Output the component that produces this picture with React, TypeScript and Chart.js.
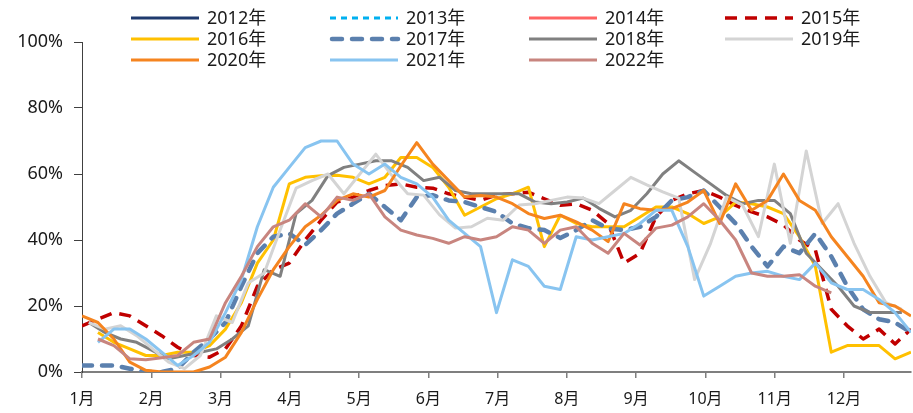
import React, { useEffect, useRef } from 'react';
import { Chart, registerables } from 'chart.js';

Chart.register(...registerables);

// ---------- data ----------
const monthLabels = ['1月', '2月', '3月', '4月', '5月', '6月', '7月', '8月', '9月', '10月', '11月', '12月'];
const yTickValues = [0, 20, 40, 60, 80, 100];
const seriesNames = ['2012年', '2013年', '2014年', '2015年', '2016年', '2017年', '2018年', '2019年', '2020年', '2021年', '2022年'];

// weekly utilisation (%) — one value per week
const s2012: (number | null)[] = [];
const s2013: (number | null)[] = [];
const s2014: (number | null)[] = [];
const s2015: (number | null)[] = [14, 16, 18, 17, 14, 11, 7.5, 5, 4.5, 7, 14, 26, 31, 33, 40, 46, 51.5, 53, 55, 56.5, 57, 56, 55.7, 54, 53, 52, 53.6, 54, 54.5, 52.5, 50.5, 51, 49, 45, 33, 36, 47, 52, 54, 55, 53, 50.5, 48.5, 47, 44.6, 40, 37, 19, 14, 10, 13, 8.5, 13];
const s2016: (number | null)[] = [null, 12, 9, 7, 5, 5, 6, 6, 8, 13, 21, 33, 40, 57, 59, 59.5, 59.6, 59, 57, 59, 65, 65, 62, 56, 47.5, 50, 52.5, 54, 56, 38, 47.5, 45, 44, 44, 44, 47, 50, 50, 48, 45, 47, 51.5, 51, 50, 48, 41, 32, 6, 8, 8, 8, 4, 6];
const s2017: (number | null)[] = [2, 2, 2, 1, 0, 0, 1, 6, 10, 15, 26, 36, 41, 42, 38.5, 43, 48, 51, 54, 50, 46, 53, 53.6, 52, 51.5, 50, 48.5, 45, 43.6, 43, 40.6, 43, 46, 43.5, 43, 44, 47, 52, 53, 55, 50, 45, 38, 32, 38, 36, 42, 35, 26, 19, 16, 15, 12];
const s2018: (number | null)[] = [15, 12, 10, 9, 6.5, 4, 5, 6, 7, 10, 14, 31, 29, 48, 52, 59.5, 62, 63, 64, 64, 62, 58, 59, 55, 54, 54, 54, 54, 51.5, 51, 51.5, 52.7, 49.6, 47, 49, 54, 60, 64, 60.5, 57, 53.5, 51, 52, 52, 48, 36, 31, 26, 20, 18, 18, 18];
const s2019: (number | null)[] = [15, 13, 14, 11, 7, 3, 1, 5, 17, 15, 27, 30, 43, 55.7, 58, 60, 54, 60, 66, 59.6, 54, 53.6, 47.6, 43.6, 44, 46.6, 46, 50.6, 51, 52, 53, 52.7, 51, 55, 59, 56.7, 54.6, 52.7, 28, 39, 53, 50.6, 41, 63, 39, 67, 45, 51, 39, 29, 21, 19];
const s2020: (number | null)[] = [17, 15, 10, 3, 0.5, 0, 0, 0, 1.5, 4.5, 12, 22, 31, 38, 44, 47.5, 52, 54, 53, 55, 62.5, 69.5, 63, 58, 53, 53.5, 53, 51, 48, 46.5, 47.5, 45.5, 43, 39.5, 51, 49.5, 49, 49.5, 51.5, 55, 45, 57, 49, 52, 60, 52, 49, 41, 35, 29, 21, 20, 17];
const s2021: (number | null)[] = [null, 9, 13, 13, 10, 6, 2, 5, 9, 18, 28, 44, 56, 62, 68, 70, 70, 63, 60, 63, 59, 57, 53, 46, 42, 38, 18, 34, 32, 26, 25, 41, 40, 41, 42, 45, 49, 49, 38, 23, 26, 29, 30, 30.5, 29, 28, 33, 27, 25, 25, 22, 18, 12];
const s2022: (number | null)[] = [null, 10, 8, 4, 3.7, 4.3, 5, 9, 10, 21, 29, 38, 44, 46, 51, 47, 53, 52, 54, 47, 43, 41.5, 40.5, 39, 41, 40, 41, 44, 43, 39, 43, 44, 39, 36, 42, 38.5, 43.6, 44.5, 47, 51, 46, 40, 30, 29, 29, 29.5, 26, 24];

// day of year of each series' first weekly observation
const startDays = [0, 0, 0, 0, 0, 0, 3, 3, 0, 0, 0];

// ---------- styles ----------
const seriesValues = [s2012, s2013, s2014, s2015, s2016, s2017, s2018, s2019, s2020, s2021, s2022];
const seriesColors = ['#1F3A6E', '#00B0F0', '#FF6464', '#C00000', '#FFC000', '#5B80AE', '#808080', '#D4D4D4', '#F5841F', '#88C4F0', '#C8857F'];
const seriesWidths = [3, 3, 3, 3.5, 3, 4.5, 3, 3, 3, 3, 3];
const seriesDashes: number[][] = [[], [6, 5], [], [12, 8], [], [10, 10], [], [], [], [], []];
const seriesCaps = ['butt', 'butt', 'butt', 'butt', 'butt', 'round', 'butt', 'butt', 'butt', 'butt', 'butt'];

const FONT_FAMILY = '"Noto Sans", "Noto Sans CJK SC", sans-serif';
const TEXT_COLOR = '#1a1a1a';
const legendCols = [131, 330, 529, 725];
const legendRows = [18, 39, 60];

const legendPlugin = {
  id: 'customLegend',
  afterDraw(chart: any) {
    const ctx = chart.ctx as CanvasRenderingContext2D;
    chart.data.datasets.forEach((ds: any, i: number) => {
      const x0 = legendCols[i % 4];
      const y = legendRows[Math.floor(i / 4)];
      ctx.save();
      ctx.strokeStyle = ds.borderColor;
      ctx.lineWidth = ds.borderWidth;
      ctx.setLineDash(ds.borderDash || []);
      ctx.lineCap = ds.borderCapStyle || 'butt';
      ctx.beginPath();
      ctx.moveTo(x0 + (ds.borderCapStyle === 'round' ? 2 : 0), y);
      ctx.lineTo(x0 + 68, y);
      ctx.stroke();
      ctx.setLineDash([]);
      ctx.fillStyle = TEXT_COLOR;
      ctx.font = `18px ${FONT_FAMILY}`;
      ctx.textBaseline = 'middle';
      ctx.textAlign = 'left';
      ctx.fillText(ds.label, x0 + 76, y + 1);
      ctx.restore();
    });
  },
};

export default function App() {
  const canvasRef = useRef<HTMLCanvasElement>(null);

  useEffect(() => {
    document.body.style.margin = '0';
    const canvas = canvasRef.current;
    if (!canvas) return;

    const datasets = seriesNames.map((name, i) => ({
      label: name,
      data: seriesValues[i].map((v, k) => ({ x: startDays[i] + 7 * k, y: v })),
      borderColor: seriesColors[i],
      backgroundColor: seriesColors[i],
      borderWidth: seriesWidths[i],
      borderDash: seriesDashes[i],
      borderCapStyle: seriesCaps[i],
      borderJoinStyle: 'round',
      pointRadius: 0,
      pointHoverRadius: 0,
      tension: 0,
      fill: false,
      spanGaps: false,
      order: seriesNames.length - i,
    }));

    const chart = new Chart(canvas, {
      type: 'line',
      data: { datasets } as any,
      plugins: [legendPlugin],
      options: {
        animation: false,
        responsive: false,
        devicePixelRatio: 1,
        layout: { padding: { top: 42, right: 2, bottom: 0, left: 0 } },
        plugins: {
          legend: { display: false },
          tooltip: { enabled: false },
        },
        scales: {
          x: {
            type: 'linear',
            min: 0,
            max: 364,
            afterBuildTicks: (scale: any) => {
              scale.ticks = monthLabels.map((_, k) => ({ value: (k * 365) / 12 }));
            },
            afterFit: (scale: any) => {
              scale.height = 41;
            },
            ticks: {
              autoSkip: false,
              maxRotation: 0,
              padding: 12,
              color: TEXT_COLOR,
              font: { family: FONT_FAMILY, size: 16 },
              callback: (_v: any, idx: number) => monthLabels[idx],
            },
            grid: {
              display: true,
              drawOnChartArea: false,
              drawTicks: true,
              tickLength: 6,
              color: '#7f7f7f',
              lineWidth: 1.5,
            },
            border: { display: true, color: '#7f7f7f', width: 2 },
          },
          y: {
            type: 'linear',
            min: 0,
            max: 100,
            afterBuildTicks: (scale: any) => {
              scale.ticks = yTickValues.map((v) => ({ value: v }));
            },
            afterFit: (scale: any) => {
              scale.width = 82;
            },
            ticks: {
              padding: 11,
              color: TEXT_COLOR,
              font: { family: FONT_FAMILY, size: 18 },
              callback: (v: any) => `${v}%`,
            },
            grid: {
              display: true,
              drawOnChartArea: false,
              drawTicks: true,
              tickLength: 8,
              color: '#404040',
              lineWidth: 1,
            },
            border: { display: true, color: '#404040', width: 1 },
          },
        },
      } as any,
    });

    return () => {
      chart.destroy();
    };
  }, []);

  return (
    <div style={{ width: 913, height: 413, position: 'relative', overflow: 'hidden' }}>
      <canvas ref={canvasRef} width={913} height={413} style={{ display: 'block', width: 913, height: 413 }} />
    </div>
  );
}
